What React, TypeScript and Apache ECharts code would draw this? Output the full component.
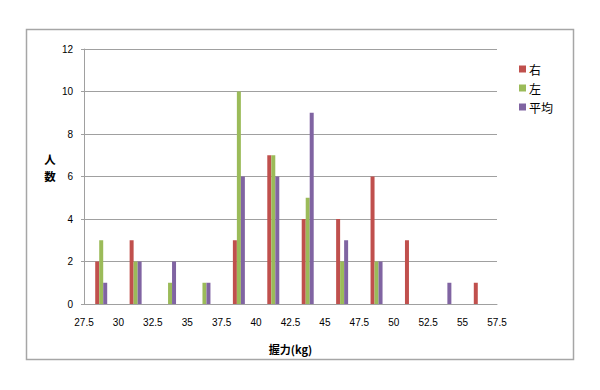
import React, { useEffect, useRef } from "react";
import * as echarts from "echarts";

const binCenters = [28.75, 31.25, 33.75, 36.25, 38.75, 41.25, 43.75, 46.25, 48.75, 51.25, 53.75, 56.25];
const rightHand = [2, 3, 0, 0, 3, 7, 4, 4, 6, 3, 0, 1];
const leftHand = [3, 2, 1, 1, 10, 7, 5, 2, 2, 0, 0, 0];
const average = [1, 2, 2, 1, 6, 6, 9, 3, 2, 0, 1, 0];
const seriesNames = ["右", "左", "平均"];
const seriesColors = ["#c0504d", "#9bbb59", "#8064a2"];
const yAxisNameChars = ["人", "数"];

const pair = (vals: number[]) => binCenters.map((c, i) => [c, vals[i]]);

export default function App() {
  const ref = useRef<HTMLDivElement>(null);
  useEffect(() => {
    if (!ref.current) return;
    const chart = echarts.init(ref.current, null, { renderer: "svg" });
    const font = "'Liberation Sans', Arial, sans-serif";
    const cjk = "'Noto Sans CJK JP', 'Noto Sans CJK SC', sans-serif";
    const datasets = [rightHand, leftHand, average];
    chart.setOption({
      animation: false,
      backgroundColor: "#ffffff",
      graphic: [
        {
          type: "rect",
          shape: { x: 26.5, y: 29.5, width: 547, height: 330 },
          style: { fill: "none", stroke: "#a6a6a6", lineWidth: 1.5 },
          z: 0,
        },
        ...yAxisNameChars.map((ch, i) => ({
          type: "text",
          x: 50,
          y: 159 + i * 17,
          style: {
            text: ch,
            fontSize: 11.5,
            fontWeight: "bold",
            fontFamily: cjk,
            fill: "#000",
            align: "center",
            verticalAlign: "middle",
          },
        })),
      ],
      legend: {
        orient: "vertical",
        left: 514,
        top: 57,
        itemWidth: 7,
        itemHeight: 7,
        itemGap: 5,
        icon: "rect",
        textStyle: { fontSize: 12, fontFamily: cjk, color: "#000", lineHeight: 14, padding: [0, 0, 0, -2] },
        data: seriesNames,
      },
      grid: { left: 84, right: 103, top: 49, bottom: 86 },
      xAxis: {
        type: "value",
        min: 27.5,
        max: 57.5,
        interval: 2.5,
        name: "握力(kg)",
        nameLocation: "middle",
        nameGap: 39,
        nameTextStyle: { fontSize: 11, fontWeight: "bold", fontFamily: cjk, color: "#000" },
        axisLine: { show: true, lineStyle: { color: "#a0a0a0", width: 1 } },
        axisTick: { show: false },
        splitLine: { show: false },
        axisLabel: { fontSize: 10, fontFamily: font, color: "#000", margin: 13 },
      },
      yAxis: {
        type: "value",
        min: 0,
        max: 12,
        interval: 2,
        axisLine: { show: true, lineStyle: { color: "#a0a0a0", width: 1 } },
        axisTick: { show: true, length: 3, lineStyle: { color: "#a0a0a0" } },
        splitLine: { show: true, lineStyle: { color: "#a0a0a0", width: 1 } },
        axisLabel: { fontSize: 10, fontFamily: font, color: "#000", margin: 11 },
      },
      series: datasets.map((d, i) => ({
        type: "bar",
        name: seriesNames[i],
        data: pair(d),
        barWidth: 4,
        barGap: "0%",
        itemStyle: { color: seriesColors[i] },
      })),
    });
    return () => chart.dispose();
  }, []);
  return <div ref={ref} style={{ position: "fixed", left: 0, top: 0, width: 600, height: 390 }} />;
}
